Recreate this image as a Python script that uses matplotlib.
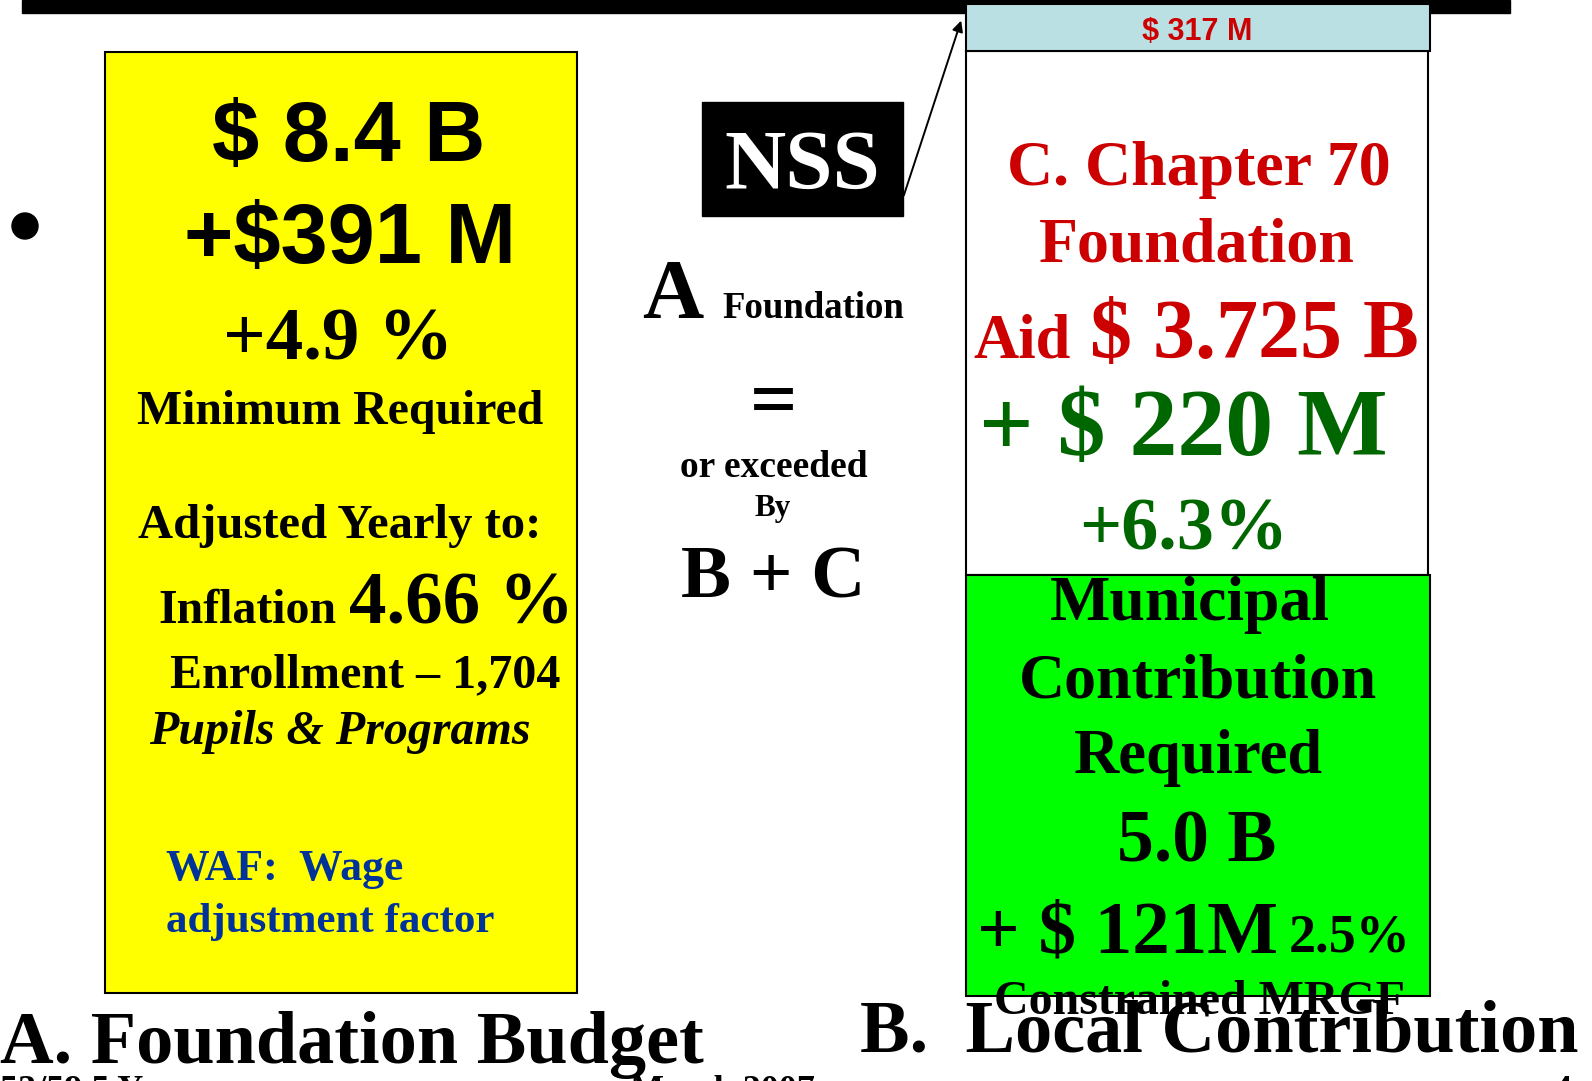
import matplotlib
matplotlib.use("Agg")
import matplotlib.pyplot as plt
from matplotlib.patches import Rectangle, Circle
from matplotlib import font_manager

# slide content
nss_gap = "$ 317 M"
budget_totals = ["$ 8.4 B", "+$391 M"]
budget_growth = "+4.9 %"
budget_notes = ["Minimum Required", "Adjusted Yearly to:"]
inflation = ["Inflation", "4.66 %"]
enrollment = "Enrollment – 1,704"
programs = "Pupils & Programs"
waf_lines = ["WAF:  Wage", "adjustment factor"]
formula = ["NSS", "A", "Foundation", "=", "or exceeded", "By", "B + C"]
ch70_title = ["C. Chapter 70", "Foundation"]
ch70_aid = ["Aid", "$ 3.725 B"]
ch70_change = ["+ $ 220 M", "+6.3%"]
municipal_lines = ["Municipal", "Contribution", "Required", "5.0 B"]
municipal_change = ["+ $ 121M", "2.5%"]
municipal_note = "Constrained MRGF"
section_titles = ["A. Foundation Budget", "B.  Local Contribution"]
footer = ["53/59.5 Y", "March 2007", "4"]

SERIF = "Liberation Serif"
SANS = "Liberation Sans"
try:
    font_manager.findfont(font_manager.FontProperties(family="Liberation Sans Narrow", weight="bold"),
                          fallback_to_default=False)
    NARROW, narrow_size = "Liberation Sans Narrow", 25
except Exception:
    NARROW, narrow_size = SANS, 22

RED = "#cc0000"
DKGREEN = "#006600"
BLUE = "#003399"

fig = plt.figure(figsize=(15.92, 10.81), dpi=100)
ax = fig.add_axes([0, 0, 1, 1])
ax.set_xlim(0, 1592)
ax.set_ylim(1081, 0)
ax.axis("off")


def txt(x, y, s, size, color="black", family=SERIF, ha="center", style="normal", z=5):
    ax.text(x, y, s, fontsize=size, color=color, family=family, fontweight="bold",
            fontstyle=style, ha=ha, va="baseline", zorder=z, clip_on=False)


# top bar and bullet
ax.add_patch(Rectangle((22, 0), 1488, 13, color="black", zorder=1))
ax.add_patch(Circle((25, 226), 13, color="black", zorder=1))

# boxes
ax.add_patch(Rectangle((105, 52), 472, 941, facecolor="#ffff00", edgecolor="black", lw=1.5, zorder=2))
ax.add_patch(Rectangle((966, 51), 462, 524, facecolor="white", edgecolor="black", lw=1.5, zorder=2))
ax.add_patch(Rectangle((966, 575), 464, 421, facecolor="#00ff00", edgecolor="black", lw=1.5, zorder=2))
ax.add_patch(Rectangle((966, 4), 464, 47, facecolor="#bbe0e3", edgecolor="black", lw=1.5, zorder=3))
ax.add_patch(Rectangle((702, 102), 201, 114, facecolor="black", edgecolor="black", zorder=2))

# pointer from NSS box to the gap box
ax.annotate("", xy=(962, 18), xytext=(903, 198),
            arrowprops=dict(arrowstyle="-|>", color="black", lw=1.4, mutation_scale=16),
            zorder=4)

txt(1197, 40, nss_gap, narrow_size, color=RED, family=NARROW)

# A. foundation budget box
txt(349, 161, budget_totals[0], 61, family=SANS)
txt(350, 263, budget_totals[1], 61, family=SANS)
txt(338, 360, budget_growth, 54)
txt(340, 424, budget_notes[0], 34.4)
txt(340, 538, budget_notes[1], 35)
txt(158, 623, inflation[0], 34.5, ha="left")
txt(349, 623, inflation[1], 54, ha="left")
txt(170, 687, enrollment, 34.6, ha="left")
txt(149, 744, programs, 34.6, ha="left", style="italic")
txt(166, 880, waf_lines[0], 31.5, color=BLUE, ha="left")
txt(166, 932, waf_lines[1], 31, color=BLUE, ha="left")

# middle formula
txt(802, 189, formula[0], 61, color="white")
txt(642, 318, formula[1], 61, ha="left")
txt(722, 318, formula[2], 26.5, ha="left")
txt(774, 426, formula[3], 60)
txt(774, 477, formula[4], 27)
txt(773, 516, formula[5], 22.5)
txt(773, 597, formula[6], 54)

# C. chapter 70 box
txt(1199, 185, ch70_title[0], 46, color=RED)
txt(1197, 262, ch70_title[1], 46, color=RED)
txt(973, 358, ch70_aid[0], 45, color=RED, ha="left")
txt(1090, 358, ch70_aid[1], 60.5, color=RED, ha="left")
txt(979, 455, ch70_change[0], 69, color=DKGREEN, ha="left")
txt(1079, 549, ch70_change[1], 53.5, color=DKGREEN, ha="left")

# municipal contribution box
txt(1190, 620, municipal_lines[0], 46)
txt(1198, 697, municipal_lines[1], 46)
txt(1198, 773, municipal_lines[2], 45)
txt(1197, 862, municipal_lines[3], 53)
txt(977, 952, municipal_change[0], 54, ha="left")
txt(1289, 952, municipal_change[1], 39, ha="left")
txt(1200, 1014, municipal_note, 34.5, z=6)

# section titles
txt(0, 1063, section_titles[0], 53.5, ha="left", z=6)
txt(860, 1052, section_titles[1], 53.5, ha="left", z=6)

# footer, mostly cut off at the bottom edge
txt(0, 1100, footer[0], 26, ha="left")
txt(630, 1100, footer[1], 26, ha="left")
txt(1562, 1100, footer[2], 26)

fig.savefig("out.png", dpi=100)
